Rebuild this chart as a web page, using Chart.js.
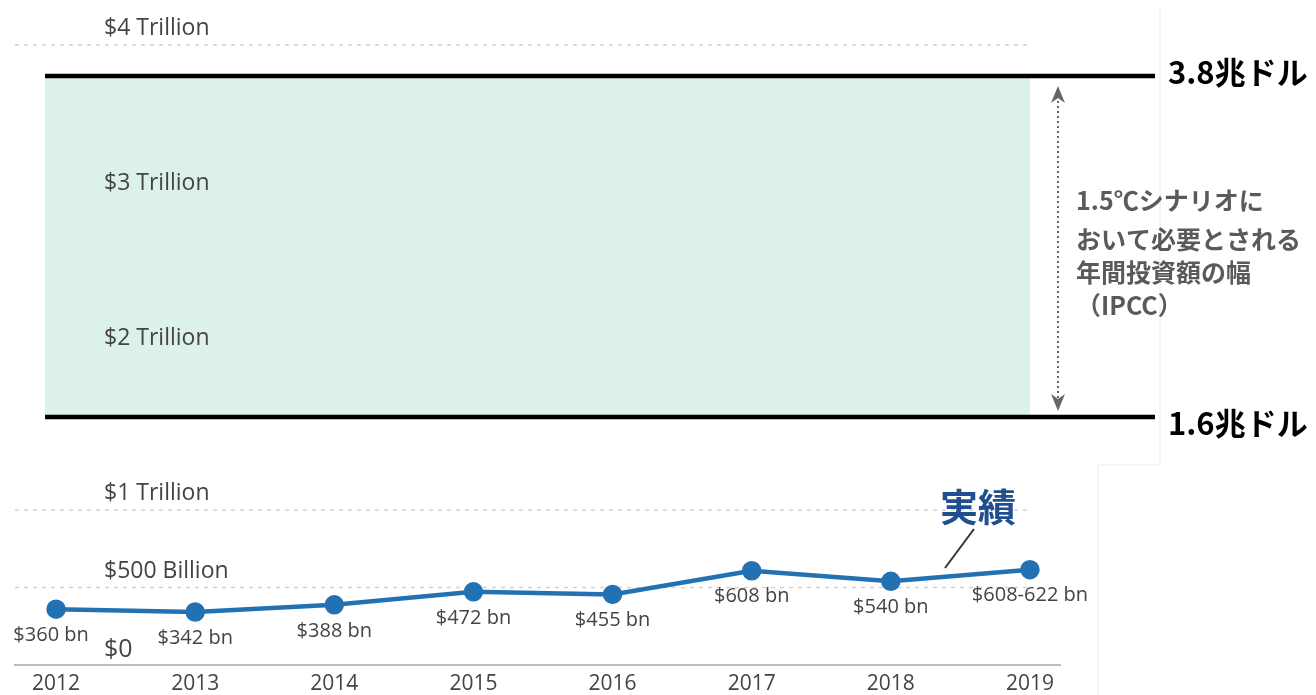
<!DOCTYPE html>
<html>
<head>
<meta charset="utf-8">
<script src="https://cdn.jsdelivr.net/npm/chart.js@4/dist/chart.umd.min.js"></script>
<style>
  body { margin: 0; background: #fff; }
  canvas { display: block; }
</style>
</head>
<body>
<canvas id="line-chart" width="1316" height="695"></canvas>
<script>
// data (trillion USD)
var years = [2012, 2013, 2014, 2015, 2016, 2017, 2018, 2019];
var invested = [0.360, 0.342, 0.388, 0.472, 0.455, 0.608, 0.540, 0.615];
var pointLabels = ["$360 bn", "$342 bn", "$388 bn", "$472 bn", "$455 bn", "$608 bn", "$540 bn", "$608-622 bn"];
var yTicks = [0, 0.5, 1, 2, 3, 4];
var yTickLabels = ["$0", "$500 Billion", "$1 Trillion", "$2 Trillion", "$3 Trillion", "$4 Trillion"];
var bandLow = 1.6;
var bandHigh = 3.8;
var bandLowLabel = "1.6兆ドル";
var bandHighLabel = "3.8兆ドル";
var bandNote = ["1.5℃シナリオに", "おいて必要とされる", "年間投資額の幅", "（IPCC）"];
var seriesName = "実績";

var fontLatin = "'Open Sans', Lato, sans-serif";
var fontJp = "'Noto Sans CJK JP', sans-serif";

var decor = {
    id: "decor",
    beforeDatasetsDraw: function (chart) {
        var c = chart.ctx, x = chart.scales.x, y = chart.scales.y;
        var left = x.getPixelForValue(years[0]) - 11;
        var right = x.getPixelForValue(years[years.length - 1]);
        var top = y.getPixelForValue(bandHigh), bot = y.getPixelForValue(bandLow);
        c.save();
        // faint frame
        c.strokeStyle = "#ececec";
        c.lineWidth = 1;
        c.beginPath();
        c.moveTo(1160, 5); c.lineTo(1160, 465); c.lineTo(1098, 465); c.lineTo(1098, 695);
        c.stroke();
        // dotted grid lines (hidden under the band)
        c.strokeStyle = "#d2d2d2";
        c.lineWidth = 1.5;
        c.setLineDash([4, 5]);
        yTicks.forEach(function (v) {
            if (v === 0 || (v > bandLow && v < bandHigh)) return;
            var py = y.getPixelForValue(v);
            c.beginPath();
            c.moveTo(chart.chartArea.left, py); c.lineTo(right, py);
            c.stroke();
        });
        c.setLineDash([]);
        // band
        c.fillStyle = "#dcf1ea";
        c.fillRect(left, top, right - left, bot - top);
        // black band edges
        c.strokeStyle = "#000";
        c.lineWidth = 4.5;
        c.beginPath();
        c.moveTo(left, top); c.lineTo(1155, top);
        c.moveTo(left, bot); c.lineTo(1155, bot);
        c.stroke();
        // dotted double arrow
        var ax = 1058;
        c.strokeStyle = "#666";
        c.lineWidth = 2;
        c.setLineDash([2, 3]);
        c.beginPath();
        c.moveTo(ax, top + 20); c.lineTo(ax, bot - 10);
        c.stroke();
        c.setLineDash([]);
        c.fillStyle = "#666";
        c.beginPath();
        c.moveTo(ax, top + 10); c.lineTo(ax - 7, top + 27); c.lineTo(ax, top + 22); c.lineTo(ax + 7, top + 27); c.fill();
        c.beginPath();
        c.moveTo(ax, bot - 6); c.lineTo(ax - 7, bot - 23); c.lineTo(ax, bot - 18); c.lineTo(ax + 7, bot - 23); c.fill();
        // band labels
        c.fillStyle = "#000";
        c.font = "bold 31px " + fontJp;
        c.textAlign = "left";
        c.textBaseline = "middle";
        c.fillText(bandHighLabel, 1168, top - 4);
        c.fillText(bandLowLabel, 1168, bot + 6);
        c.fillStyle = "#5a5a5a";
        c.font = "bold 25px " + fontJp;
        var ly = [200, 239, 272, 305];
        bandNote.forEach(function (t, i) { c.fillText(t, 1076, ly[i]); });
        // y tick labels above the grid lines
        c.fillStyle = "#444";
        c.textBaseline = "alphabetic";
        yTicks.forEach(function (v, i) {
            var py = y.getPixelForValue(v);
            c.font = (v === 0 ? "25px " : "23px ") + fontLatin;
            c.fillText(yTickLabels[i], 104, v === 0 ? py - 8 : py - 10);
        });
        // series name + leader
        c.fillStyle = "#1f4f8e";
        c.font = "bold 38px " + fontJp;
        c.textBaseline = "middle";
        c.fillText(seriesName, 940, 507);
        c.strokeStyle = "#333";
        c.lineWidth = 2;
        c.beginPath();
        c.moveTo(974, 529); c.lineTo(945, 568);
        c.stroke();
        c.restore();
    },
    afterDatasetsDraw: function (chart) {
        var c = chart.ctx;
        var meta = chart.getDatasetMeta(0);
        c.save();
        c.fillStyle = "#444";
        c.font = "20px " + fontLatin;
        c.textAlign = "center";
        c.textBaseline = "middle";
        meta.data.forEach(function (pt, i) {
            c.fillText(pointLabels[i], i === 0 ? pt.x - 5 : pt.x, pt.y + 26);
        });
        c.restore();
    }
};

var ctx = document.getElementById("line-chart").getContext("2d");
var chart = new Chart(ctx, {
    type: "line",
    data: {
        datasets: [{
            label: seriesName,
            data: years.map(function (yr, i) { return { x: yr, y: invested[i] }; }),
            borderColor: "#2271b3",
            backgroundColor: "#2271b3",
            borderWidth: 4.5,
            pointRadius: 7.5,
            pointHoverRadius: 7.5,
            tension: 0,
            fill: false
        }]
    },
    options: {
        responsive: false,
        animation: false,
        layout: { padding: { left: 15, right: 256, top: 14, bottom: 0 } },
        plugins: { legend: { display: false }, tooltip: { enabled: false } },
        scales: {
            x: {
                type: "linear",
                min: 2011.705,
                max: 2019.216,
                afterBuildTicks: function (s) { s.ticks = years.map(function (v) { return { value: v }; }); },
                afterFit: function (s) { s.height = 30; },
                grid: { display: false, drawTicks: false },
                border: { color: "#bdbdbd", width: 2 },
                ticks: {
                    padding: 6,
                    color: "#444",
                    font: { family: fontLatin, size: 21 },
                    callback: function (v) { return String(v); }
                }
            },
            y: {
                min: 0,
                max: 4.2,
                afterBuildTicks: function (s) { s.ticks = yTicks.map(function (v) { return { value: v }; }); },
                afterFit: function (s) { s.width = 0; },
                border: { display: false },
                grid: { display: false, drawTicks: false },
                ticks: { display: false }
            }
        }
    },
    plugins: [decor]
});
</script>
</body>
</html>
